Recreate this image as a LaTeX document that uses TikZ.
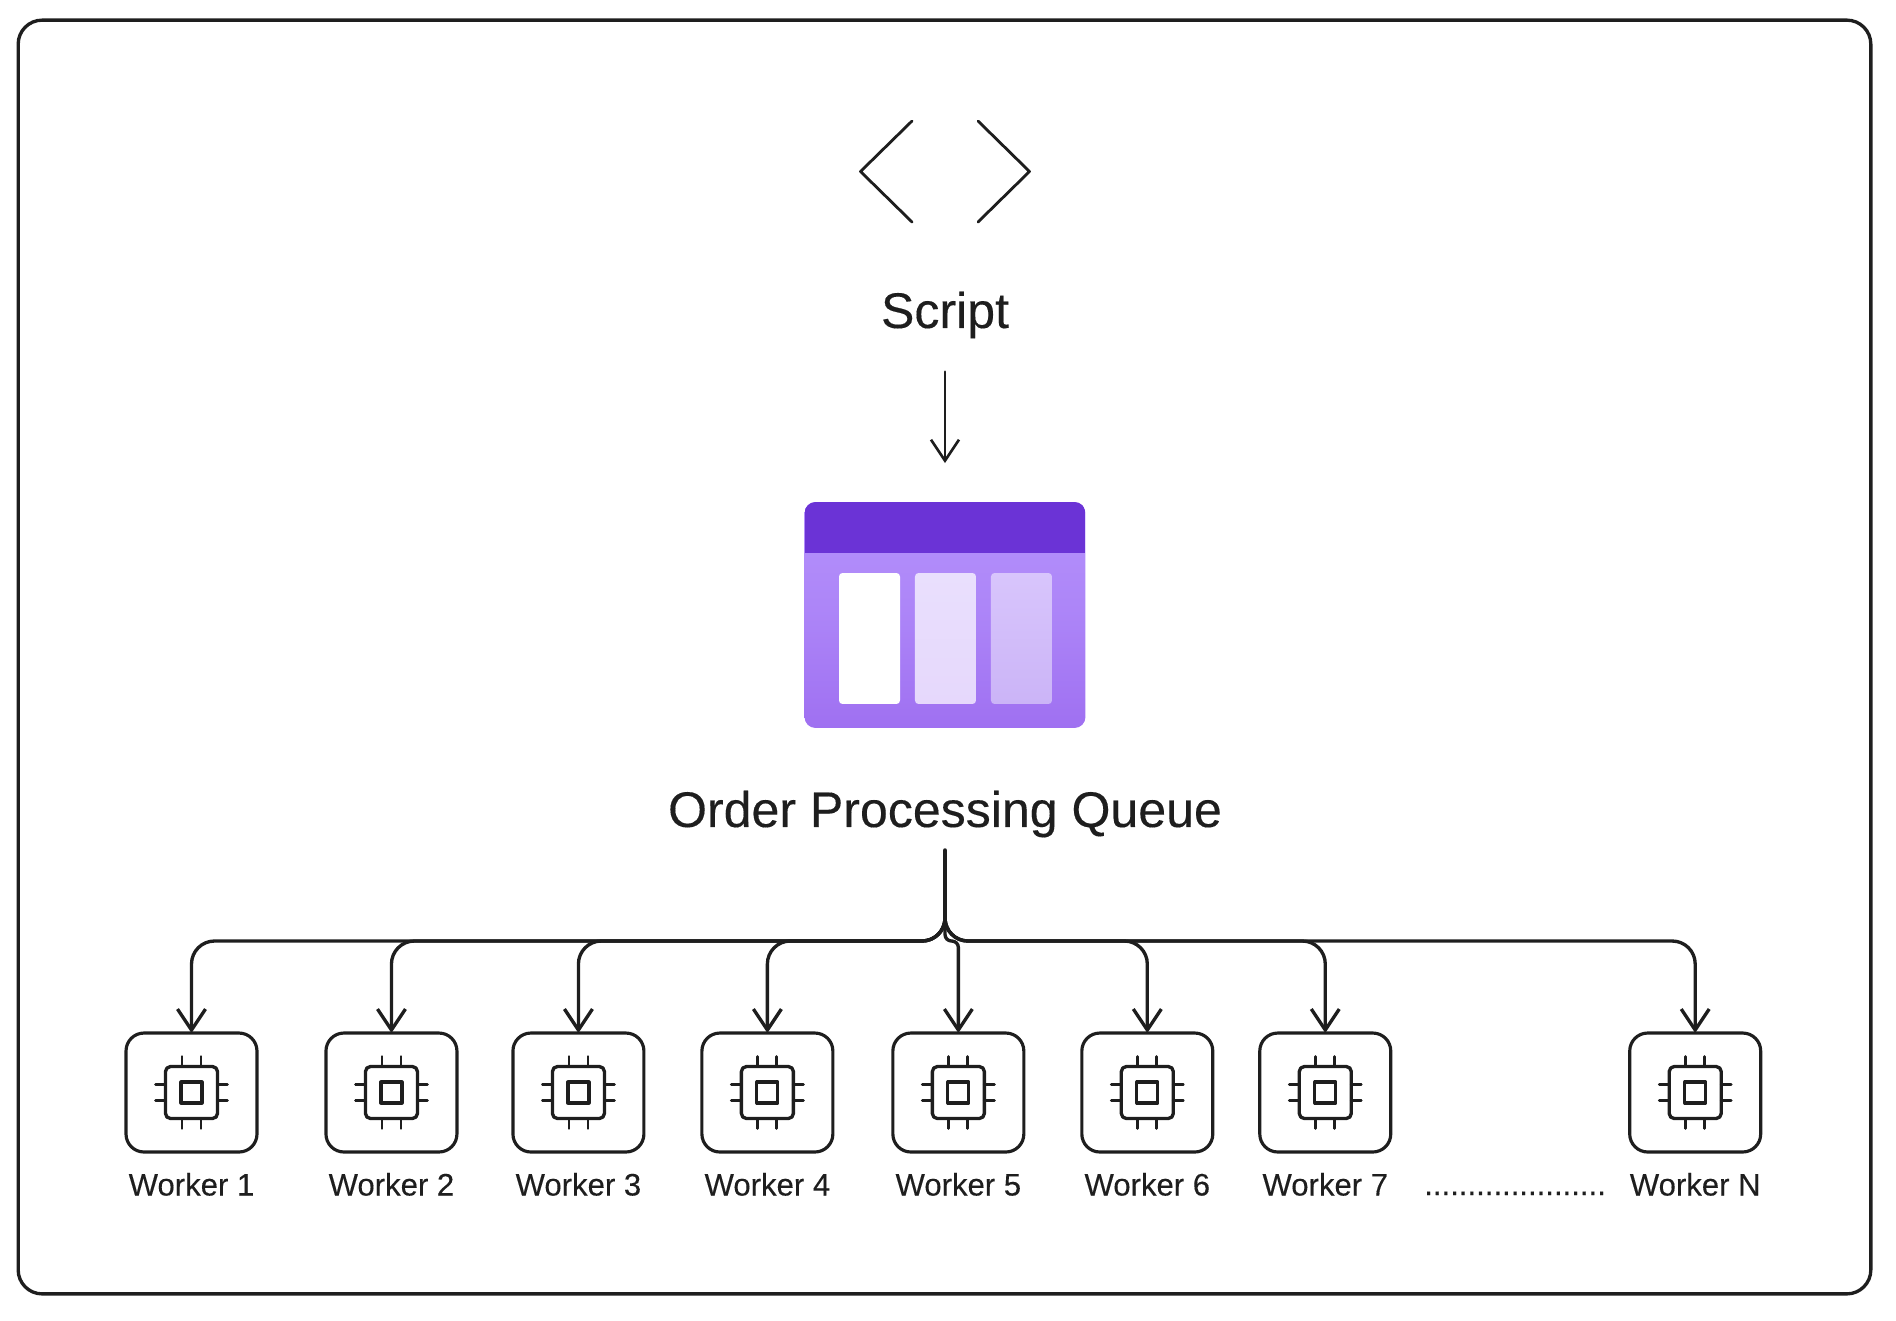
\documentclass[tikz,border=0pt]{standalone}
\usepackage{fontspec}
\setmainfont[FakeBold=0.25]{Liberation Sans}
\usetikzlibrary{arrows.meta,positioning}

\definecolor{inkdark}{HTML}{1E1E1E}
\definecolor{queuehead}{HTML}{6B33D6}
\definecolor{queuetop}{HTML}{B592FC}
\definecolor{queuebot}{HTML}{9F70F1}
\definecolor{slottwotop}{HTML}{E9DFFD}
\definecolor{slottwobot}{HTML}{E6D8FC}
\definecolor{slotthreetop}{HTML}{D8C5FC}
\definecolor{slotthreebot}{HTML}{CBB4F7}

\begin{document}
\begin{tikzpicture}[
    x=0.02cm, y=-0.02cm,
    line join=round, line cap=round,
    frame/.style={rectangle, draw=inkdark, line width=1.9pt, rounded corners=0.48cm, minimum width=37.06cm, minimum height=25.48cm},
    worker/.style={rectangle, draw=inkdark, line width=1.8pt, rounded corners=0.36cm, minimum width=2.62cm, minimum height=2.38cm, inner sep=0pt, outer sep=0pt},
    chip/.style={rectangle, draw=inkdark, line width=1.9pt, rounded corners=0.1cm, minimum size=1.04cm, inner sep=0pt, outer sep=0pt},
    core/.style={rectangle, draw=inkdark, line width=1.8pt, minimum size=0.42cm, inner sep=0pt, outer sep=0pt},
    pin/.style={draw=inkdark, line width=1.6pt},
    label/.style={font=\fontsize{17.7}{20}\selectfont, text=inkdark, inner sep=0pt},
    title/.style={font=\fontsize{28.5}{32}\selectfont, text=inkdark, inner sep=0pt},
    slot/.style={rectangle, rounded corners=0.07cm, minimum width=1.22cm, minimum height=2.62cm, inner sep=0pt, outer sep=0pt},
    arrow/.style={-{Straight Barb[length=4.2mm,width=5.6mm]}, draw=inkdark, line width=1.5pt},
    bus/.style={arrow, line width=1.9pt, rounded corners=0.46cm, shorten <=0.26cm}
]
\useasboundingbox (0,0) rectangle (1896,1320);
\node[frame] (border) at (944.5,657) {};

% script icon
\node[minimum width=3.38cm, minimum height=2.02cm, inner sep=0pt, outer sep=0pt] (icon) at (945,171.5) {};
\draw[inkdark, line width=1.6pt] (912,121) -- (icon.west) -- (912,222);
\draw[inkdark, line width=1.6pt] (978,121) -- (icon.east) -- (978,222);
\node[title, below=2.12cm of icon.south, anchor=base] (script) {Script};

% queue icon
\node[rectangle, rounded corners=0.22cm, minimum width=5.62cm, minimum height=4.52cm, inner sep=0pt, outer sep=0pt, top color=queuetop, bottom color=queuebot, middle color=queuetop!60!queuebot, draw=none] (queue) at (945,615) {};
\coordinate[below=1.02cm of queue.north] (headline);
\begin{scope}
    \clip[rounded corners=0.22cm] (queue.north west) rectangle (queue.south east);
    \fill[queuehead] (queue.north west) rectangle (queue.east |- headline);
\end{scope}
\node[slot, fill=white, anchor=north west] (slotone) at (839,573) {};
\node[slot, right=0.3cm of slotone, top color=slottwotop, bottom color=slottwobot] (slottwo) {};
\node[slot, right=0.3cm of slottwo, top color=slotthreetop, bottom color=slotthreebot] (slotthree) {};
\node[title, below=1.98cm of queue.south, anchor=base] (order) {Order Processing Queue};

% workers
\node[worker] (w1) at (191.5,1092.5) {};
\node[worker, right=1.38cm of w1] (w2) {};
\node[worker, right=1.12cm of w2] (w3) {};
\node[worker, right=1.16cm of w3] (w4) {};
\node[worker, right=1.2cm of w4] (w5) {};
\node[worker, right=1.16cm of w5] (w6) {};
\node[worker, right=0.94cm of w6] (w7) {};
\node[worker, right=4.78cm of w7] (wn) {};

\foreach \w/\txt in {w1/Worker 1, w2/Worker 2, w3/Worker 3, w4/Worker 4, w5/Worker 5, w6/Worker 6, w7/Worker 7, wn/Worker N} {
    \node[chip] (\w chip) at (\w) {};
    \node[core] (\w core) at (\w) {};
    \foreach \d in {-9.5,9.5} {
        \draw[pin] ([xshift=\d*0.02cm]\w chip.north) -- ++(0,-10);
        \draw[pin] ([xshift=\d*0.02cm]\w chip.south) -- ++(0,10);
        \draw[pin] ([yshift=\d*0.017cm]\w chip.west) -- ++(-10,0);
        \draw[pin] ([yshift=\d*0.017cm]\w chip.east) -- ++(10,0);
    }
    \node[label, below=0.87cm of \w.south, anchor=base] (\w label) {\txt};
}
\node[label, anchor=base] (dots) at (1515,1195) {.....................};

\draw[arrow, shorten <=0.66cm, shorten >=0.78cm] (script.south) -- (queue.north);

% fan out to the workers
\coordinate (busline) at (945,941);
\draw[draw=inkdark, line width=2.8pt, shorten <=0.26cm, shorten >=0.34cm] (order.south) -- (busline);
\foreach \w in {w1,w2,w3,w4,w6,w7,wn}
    \draw[bus] (order.south) -- (busline) -| (\w.north);
\draw[bus, rounded corners=0.13cm] (order.south) -- (busline) -| (w5.north);
\end{tikzpicture}
\end{document}
